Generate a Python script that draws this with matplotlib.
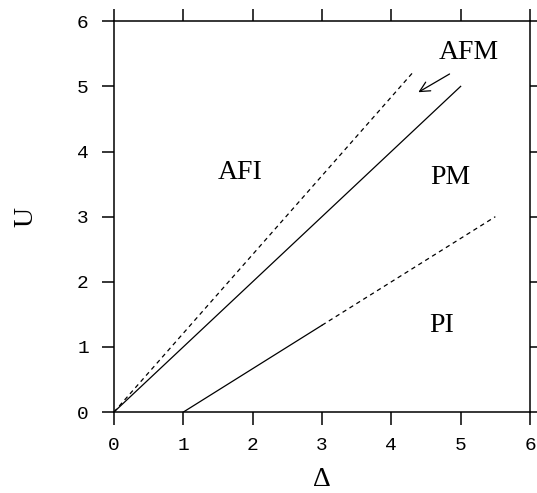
import numpy as np
import matplotlib.pyplot as plt

# phase boundaries (Delta, U)
afi_dash_x = [0.0, 4.3]
afi_dash_y = [0.0, 5.2]
afm_solid_x = [0.0, 5.0]
afm_solid_y = [0.0, 5.0]
pi_solid_x = [1.0, 3.0]
pi_solid_y = [0.0, 1.333]
pi_dash_x = [3.0, 5.5]
pi_dash_y = [1.333, 3.0]

# region labels
region_names = ['AFI', 'AFM', 'PM', 'PI']
region_x = [1.82, 5.12, 4.85, 4.73]
region_y = [3.68, 5.52, 3.6, 1.33]

ticks = [0, 1, 2, 3, 4, 5, 6]

serif = 'Liberation Serif'
mono = 'Liberation Mono'

fig = plt.figure(figsize=(5.37, 4.93), dpi=100)
ax = fig.add_axes([0.212, 0.164, 0.775, 0.793])

ax.plot(afi_dash_x, afi_dash_y, color='black', lw=0.9, dashes=(3.5, 3))
ax.plot(afm_solid_x, afm_solid_y, color='black', lw=0.9)
ax.plot(pi_solid_x, pi_solid_y, color='black', lw=0.9)
ax.plot(pi_dash_x, pi_dash_y, color='black', lw=0.9, dashes=(3.5, 3))

ax.annotate('', xy=(4.39, 4.91), xytext=(4.84, 5.19),
            arrowprops=dict(arrowstyle='->', color='black', lw=0.9,
                            mutation_scale=18, shrinkA=0, shrinkB=0))

for name, x, y in zip(region_names, region_x, region_y):
    ax.text(x, y, name, fontsize=20, family=serif, ha='center', va='center')

ax.set_xlim(0, 6)
ax.set_ylim(0, 6)
ax.set_xticks(ticks)
ax.set_yticks(ticks)
ax.tick_params(direction='out', length=9, width=1.1, top=True, right=True,
               labeltop=False, labelright=False, labelsize=14, pad=9)
for lab in ax.get_xticklabels() + ax.get_yticklabels():
    lab.set_family(mono)
for s in ax.spines.values():
    s.set_linewidth(1.1)

ax.set_xlabel('Δ', fontsize=20, family=serif, labelpad=9)
ax.set_ylabel('U', fontsize=20, family=serif, rotation=90, labelpad=28)

fig.savefig('out.png', dpi=100)
